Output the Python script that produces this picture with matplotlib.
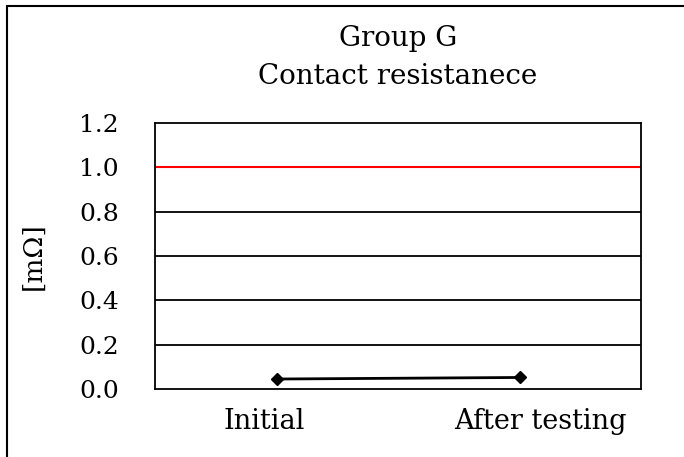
import matplotlib.pyplot as plt
import matplotlib.transforms as mtransforms
from matplotlib.patches import Rectangle

categories = ["Initial", "After testing"]
values = [0.045, 0.052]
limit = 1.0
yticks = [0.0, 0.2, 0.4, 0.6, 0.8, 1.0, 1.2]

plt.rcParams["font.family"] = ["DejaVu Serif"]

fig = plt.figure(figsize=(6.84, 4.57), dpi=100)
W, H = 684, 457
ax = fig.add_axes([155 / W, 1 - 389 / H, (641 - 155) / W, (389 - 123) / H])

# grid lines (Excel style)
for y in yticks[1:-1]:
    if y == limit:
        continue
    ax.axhline(y, color="black", linewidth=1.3, zorder=1)
ax.axhline(limit, color="#ff0000", linewidth=1.5, zorder=2)

x = [0.5, 1.5]
ax.plot(x, values, color="black", linewidth=2, marker="D", markersize=6, zorder=3)

ax.set_xlim(0, 2)
ax.set_ylim(0, 1.2)
ax.set_xticks(x)
ax.set_xticklabels(categories, fontsize=19.5)
ax.set_yticks(yticks)
ax.set_yticklabels([f"{v:.1f}" for v in yticks], fontsize=18)
ax.tick_params(length=0)
ax.tick_params(axis="x", pad=14)
ax.tick_params(axis="y", pad=26)
# Excel puts the category labels a little off the points
for lbl, dx in zip(ax.get_xticklabels(), [-12, 21]):
    lbl.set_transform(lbl.get_transform() + mtransforms.ScaledTranslation(dx / 100, 0, fig.dpi_scale_trans))
for s in ax.spines.values():
    s.set_linewidth(1.3)
    s.set_color("black")
ax.set_ylabel("[m\u03a9]", fontsize=19, labelpad=24)
ax.set_title("Group G\nContact resistanece", fontsize=20, pad=28, linespacing=1.55)

# outer frame of the chart area
fig.patches.append(Rectangle((7 / W, -0.1), 1.2, 1 - 6 / H + 0.1,
                             transform=fig.transFigure, fill=False,
                             edgecolor="black", linewidth=1.5))

fig.savefig("out.png", dpi=100)
